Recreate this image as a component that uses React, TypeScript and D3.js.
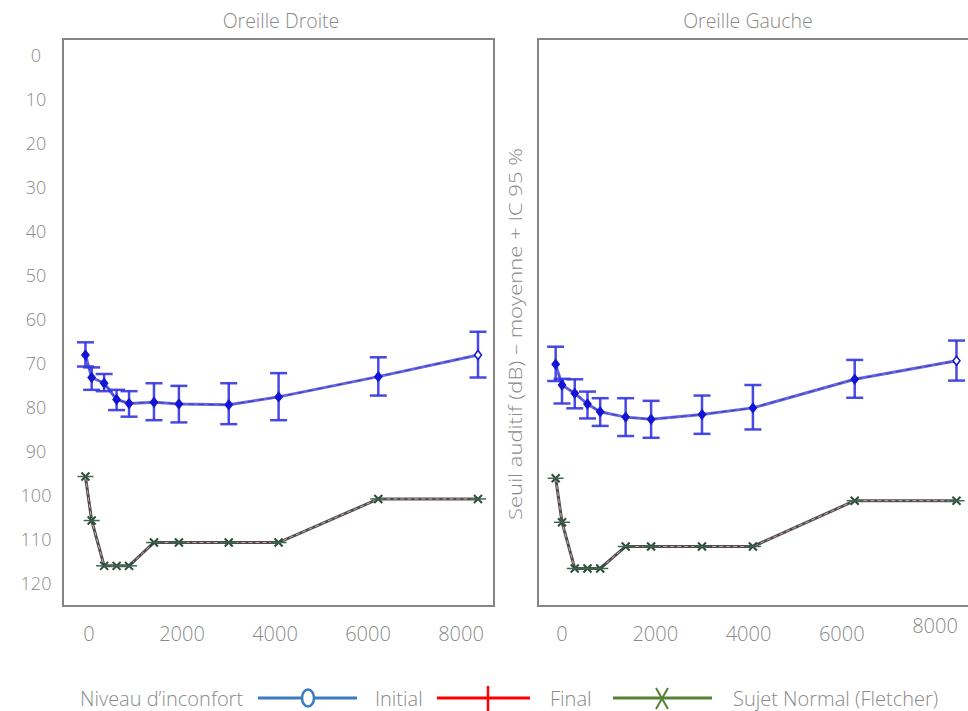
import React from "react";
import * as d3 from "d3";

// ---------- data ----------
const freqs = [125, 250, 500, 750, 1000, 1500, 2000, 3000, 4000, 6000, 8000];

const droiteMean = [68.2, 73.3, 74.6, 78.3, 79.2, 78.9, 79.3, 79.5, 77.7, 73.1, 68.2];
const droiteLow = [65.3, 71.0, 72.5, 76.1, 76.4, 74.6, 75.2, 74.6, 72.3, 68.7, 62.9];
const droiteHigh = [70.8, 76.1, 76.4, 80.7, 82.2, 83.0, 83.5, 83.9, 83.0, 77.4, 73.3];
const droiteFletcher = [95.8, 105.8, 116.1, 116.1, 116.1, 110.8, 110.8, 110.8, 110.8, 100.9, 100.9];

const gaucheMean = [70.3, 75.0, 76.9, 79.3, 81.1, 82.3, 82.8, 81.7, 80.2, 73.7, 69.5];
const gaucheLow = [66.3, 73.6, 73.7, 76.5, 78.0, 78.0, 78.6, 77.4, 75.0, 69.3, 64.9];
const gaucheHigh = [74.1, 79.2, 80.3, 82.6, 84.3, 86.6, 87.0, 86.1, 85.1, 77.9, 74.0];
const gaucheFletcher = [96.2, 106.2, 116.7, 116.7, 116.7, 111.7, 111.7, 111.7, 111.7, 101.3, 101.3];

const yTicks = [0, 10, 20, 30, 40, 50, 60, 70, 80, 90, 100, 110, 120];
const xTicks = [0, 2000, 4000, 6000, 8000];
const panelTitles = ["Oreille Droite", "Oreille Gauche"];
const yTitle = "Seuil auditif (dB) – moyenne + IC 95 %";
const legendTitle = "Niveau d’inconfort";
const legendLabels = ["Initial", "Final", "Sujet Normal (Fletcher)"];

// ---------- layout ----------
const W = 968;
const H = 711;
const FONT = "'Open Sans', Roboto, sans-serif";
const TXT = "#8a8a8a";

const yScale = d3.scaleLinear().domain([0, 120]).range([55, 583]);

type Panel = {
  title: string;
  box: [number, number, number, number];
  dataRange: [number, number];
  tickRange: [number, number];
  mean: number[];
  low: number[];
  high: number[];
  fletcher: number[];
  raiseLast: boolean;
};

const panels: Panel[] = [
  {
    title: panelTitles[0],
    box: [63, 39, 431, 567],
    dataRange: [79.2, 478],
    tickRange: [89, 461],
    mean: droiteMean,
    low: droiteLow,
    high: droiteHigh,
    fletcher: droiteFletcher,
    raiseLast: false,
  },
  {
    title: panelTitles[1],
    box: [538, 39, 432, 567],
    dataRange: [549.3, 956.5],
    tickRange: [562, 935],
    mean: gaucheMean,
    low: gaucheLow,
    high: gaucheHigh,
    fletcher: gaucheFletcher,
    raiseLast: true,
  },
];

function PanelView({ p, idx }: { p: Panel; idx: number }) {
  const x = d3.scaleLinear().domain([0, 8000]).range(p.dataRange);
  const xt = d3.scaleLinear().domain([0, 8000]).range(p.tickRange);
  const line = d3
    .line<[number, number]>()
    .x((d) => x(d[0]))
    .y((d) => yScale(d[1]));
  const meanPts: [number, number][] = freqs.map((f, i) => [f, p.mean[i]]);
  const fPts: [number, number][] = freqs.map((f, i) => [f, p.fletcher[i]]);
  const [bx, by, bw, bh] = p.box;
  const cap = 8.5;
  return (
    <g>
      <text
        x={idx === 0 ? 281 : 748}
        y={20}
        textAnchor="middle"
        dominantBaseline="central"
        fontSize={19.5}
        fontWeight={300}
        fill={TXT}
        fontFamily={FONT}
      >
        {p.title}
      </text>
      <rect x={bx} y={by} width={bw} height={bh} fill="none" stroke="#858585" strokeWidth={2} />
      {xTicks.map((t, i) => (
        <text
          key={t}
          x={xt(t)}
          y={p.raiseLast && i === xTicks.length - 1 ? 625 : 633}
          textAnchor="middle"
          dominantBaseline="central"
          fontSize={20}
          fontWeight={300}
          fill={TXT}
          fontFamily={FONT}
        >
          {t}
        </text>
      ))}
      {/* Fletcher line */}
      <path d={line(fPts) || ""} fill="none" stroke="#4d4d4d" strokeWidth={3} />
      <path d={line(fPts) || ""} fill="none" stroke="#d8aaaa" strokeWidth={1} strokeDasharray="4,3" />
      {fPts.map((d, i) => {
        const cx = x(d[0]);
        const cy = yScale(d[1]);
        return (
          <g key={"f" + i} stroke="#2f4a3c" strokeWidth={2}>
            <line x1={cx - 4} y1={cy - 4} x2={cx + 4} y2={cy + 4} />
            <line x1={cx - 4} y1={cy + 4} x2={cx + 4} y2={cy - 4} />
            <line x1={cx - 8} y1={cy} x2={cx + 8} y2={cy} strokeWidth={1.5} stroke="#3b6a50" />
          </g>
        );
      })}
      {/* mean line */}
      <path d={line(meanPts) || ""} fill="none" stroke="#4a4ae6" strokeWidth={3} strokeOpacity={0.85} />
      <path d={line(meanPts) || ""} fill="none" stroke="#2a2a80" strokeWidth={1} strokeDasharray="6,4" strokeOpacity={0.7} />
      {/* error bars */}
      {freqs.map((f, i) => {
        const cx = x(f);
        const y1 = yScale(p.low[i]);
        const y2 = yScale(p.high[i]);
        return (
          <g key={"e" + i} stroke="#3535e0" strokeWidth={2.5} strokeOpacity={0.9}>
            <line x1={cx} y1={y1} x2={cx} y2={y2} />
            <line x1={cx - cap} y1={y1} x2={cx + cap} y2={y1} />
            <line x1={cx - cap} y1={y2} x2={cx + cap} y2={y2} />
          </g>
        );
      })}
      {meanPts.map((d, i) => {
        const cx = x(d[0]);
        const cy = yScale(d[1]);
        const last = i === meanPts.length - 1;
        return (
          <path
            key={"m" + i}
            d={`M${cx},${cy - 4.5}L${cx + 3.5},${cy}L${cx},${cy + 4.5}L${cx - 3.5},${cy}Z`}
            fill={last ? "#ffffff" : "#1414d4"}
            stroke="#1414d4"
            strokeWidth={1.5}
          />
        );
      })}
    </g>
  );
}

export default function App() {
  const ly = 698;
  return (
    <svg
      width={W}
      height={H}
      viewBox={`0 0 ${W} ${H}`}
      style={{ position: "absolute", left: 0, top: 0, background: "#ffffff" }}
    >
      <rect x={0} y={0} width={W} height={H} fill="#ffffff" />
      {yTicks.map((t) => (
        <text
          key={t}
          x={36}
          y={yScale(t)}
          textAnchor="middle"
          dominantBaseline="central"
          fontSize={18}
          fontWeight={300}
          fill={TXT}
          fontFamily={FONT}
        >
          {t}
        </text>
      ))}
      {panels.map((p, i) => (
        <PanelView key={i} p={p} idx={i} />
      ))}
      <text
        transform={`translate(515,334) rotate(-90)`}
        textAnchor="middle"
        dominantBaseline="central"
        fontSize={19}
        fontWeight={300}
        fill={TXT}
        fontFamily={FONT}
        textLength={372}
        lengthAdjust="spacingAndGlyphs"
      >
        {yTitle}
      </text>
      {/* legend */}
      <g fontFamily={FONT} fontSize={20} fontWeight={300} fill={TXT}>
        <text x={80} y={ly} dominantBaseline="central">{legendTitle}</text>
        <text x={375} y={ly} dominantBaseline="central">{legendLabels[0]}</text>
        <text x={550} y={ly} dominantBaseline="central">{legendLabels[1]}</text>
        <text x={733} y={ly} dominantBaseline="central">{legendLabels[2]}</text>
      </g>
      <line x1={258} y1={ly} x2={357} y2={ly} stroke="#3a7cc2" strokeWidth={3} />
      <ellipse cx={308} cy={ly} rx={6} ry={8.5} fill="#ffffff" stroke="#3a7cc2" strokeWidth={2.5} />
      <line x1={437} y1={ly} x2={530} y2={ly} stroke="#ff0000" strokeWidth={3} />
      <line x1={488} y1={686} x2={488} y2={711} stroke="#ff0000" strokeWidth={2.5} />
      <line x1={613} y1={ly} x2={712} y2={ly} stroke="#548235" strokeWidth={3} />
      <line x1={656} y1={688} x2={668} y2={709} stroke="#548235" strokeWidth={2} />
      <line x1={656} y1={709} x2={668} y2={688} stroke="#548235" strokeWidth={2} />
    </svg>
  );
}
